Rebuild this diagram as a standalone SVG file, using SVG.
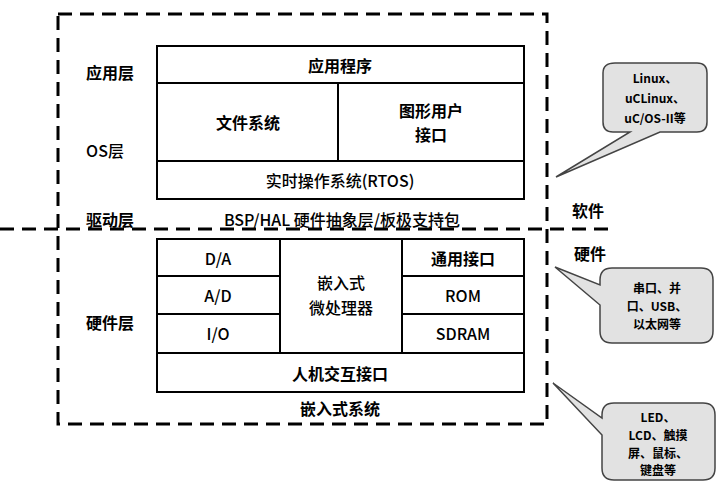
<svg xmlns="http://www.w3.org/2000/svg" width="724" height="499" viewBox="0 0 724 499">
<style>
.b{fill:#fff;stroke:#000;stroke-width:2}
.l{stroke:#000;stroke-width:2;fill:none}
.d{stroke:#000;stroke-width:3;fill:none;stroke-dasharray:14 8}
text{font-family:"Noto Sans CJK SC","DejaVu Sans",sans-serif;font-size:16px;font-weight:500;text-anchor:middle;dominant-baseline:central;fill:#000}
.bd{font-weight:bold}
.c{fill:#e2e2e2;stroke:#444;stroke-width:1.5}
.s{font-size:12px;font-weight:bold}
</style>
<rect x="0" y="0" width="724" height="499" fill="#fff"/>
<g id="connectors">
<rect class="d" x="58" y="14" width="489" height="410"/>
<line class="d" x1="0" y1="229" x2="612" y2="229" stroke-width="2"/>
</g>
<g id="software">
<rect class="b" x="157" y="46" width="367" height="153"/>
<line class="l" x1="157" y1="83" x2="524" y2="83"/>
<line class="l" x1="157" y1="161" x2="524" y2="161"/>
<line class="l" x1="338" y1="83" x2="338" y2="161"/>
<text x="340" y="65" class="bd">应用程序</text>
<text x="248" y="122" class="bd">文件系统</text>
<text x="431" y="110" class="bd">图形用户</text>
<text x="431" y="134" class="bd">接口</text>
<text x="340" y="180">实时操作系统(RTOS)</text>
</g>
<g id="hardware">
<rect class="b" x="157" y="239" width="367" height="153"/>
<line class="l" x1="157" y1="353" x2="524" y2="353"/>
<line class="l" x1="280" y1="239" x2="280" y2="353"/>
<line class="l" x1="402" y1="239" x2="402" y2="353"/>
<line class="l" x1="157" y1="276" x2="280" y2="276"/>
<line class="l" x1="157" y1="314" x2="280" y2="314"/>
<line class="l" x1="402" y1="276" x2="524" y2="276"/>
<line class="l" x1="402" y1="314" x2="524" y2="314"/>
<text x="218" y="258">D/A</text>
<text x="218" y="295">A/D</text>
<text x="218" y="333">I/O</text>
<text x="341" y="282">嵌入式</text>
<text x="341" y="307">微处理器</text>
<text x="463" y="258" class="bd">通用接口</text>
<text x="463" y="295">ROM</text>
<text x="463" y="333">SDRAM</text>
<text x="340" y="373" class="bd">人机交互接口</text>
</g>
<g id="labels">
<text x="110" y="72" class="bd">应用层</text>
<text x="105" y="150">OS层</text>
<text x="110" y="219" class="bd">驱动层</text>
<text x="342" y="219">BSP/HAL 硬件抽象层/板极支持包</text>
<text x="110" y="322" class="bd">硬件层</text>
<text x="340" y="408" class="bd">嵌入式系统</text>
<text x="588" y="210" class="bd">软件</text>
<text x="590" y="253" class="bd">硬件</text>
</g>
<g id="callout1">
<path class="c" d="M615,63 H697 Q707,63 707,73 V122 Q707,132 697,132 H660 L556,177 L630,132 H613 Q603,132 603,122 V73 Q603,63 615,63 Z"/>
<text x="655" y="77" class="s">Linux、</text>
<text x="655" y="97" class="s">uCLinux、</text>
<text x="655" y="117" class="s">uC/OS-II等</text>
</g>
<g id="callout2">
<path class="c" d="M612,268 H701 Q713,268 713,280 V331 Q713,343 701,343 H612 Q600,343 600,331 V305 L555,267 L600,285 V280 Q600,268 612,268 Z"/>
<text x="657" y="287" class="s">串口、并</text>
<text x="657" y="305" class="s">口、USB、</text>
<text x="657" y="323" class="s">以太网等</text>
</g>
<g id="callout3">
<path class="c" d="M614,403 H703 Q715,403 715,415 V468 Q715,480 703,480 H614 Q602,480 602,468 V435 L553,383 L602,418 V415 Q602,403 614,403 Z"/>
<text x="658" y="416" class="s">LED、</text>
<text x="658" y="434" class="s">LCD、触摸</text>
<text x="658" y="452" class="s">屏、鼠标、</text>
<text x="658" y="469" class="s">键盘等</text>
</g>
</svg>
